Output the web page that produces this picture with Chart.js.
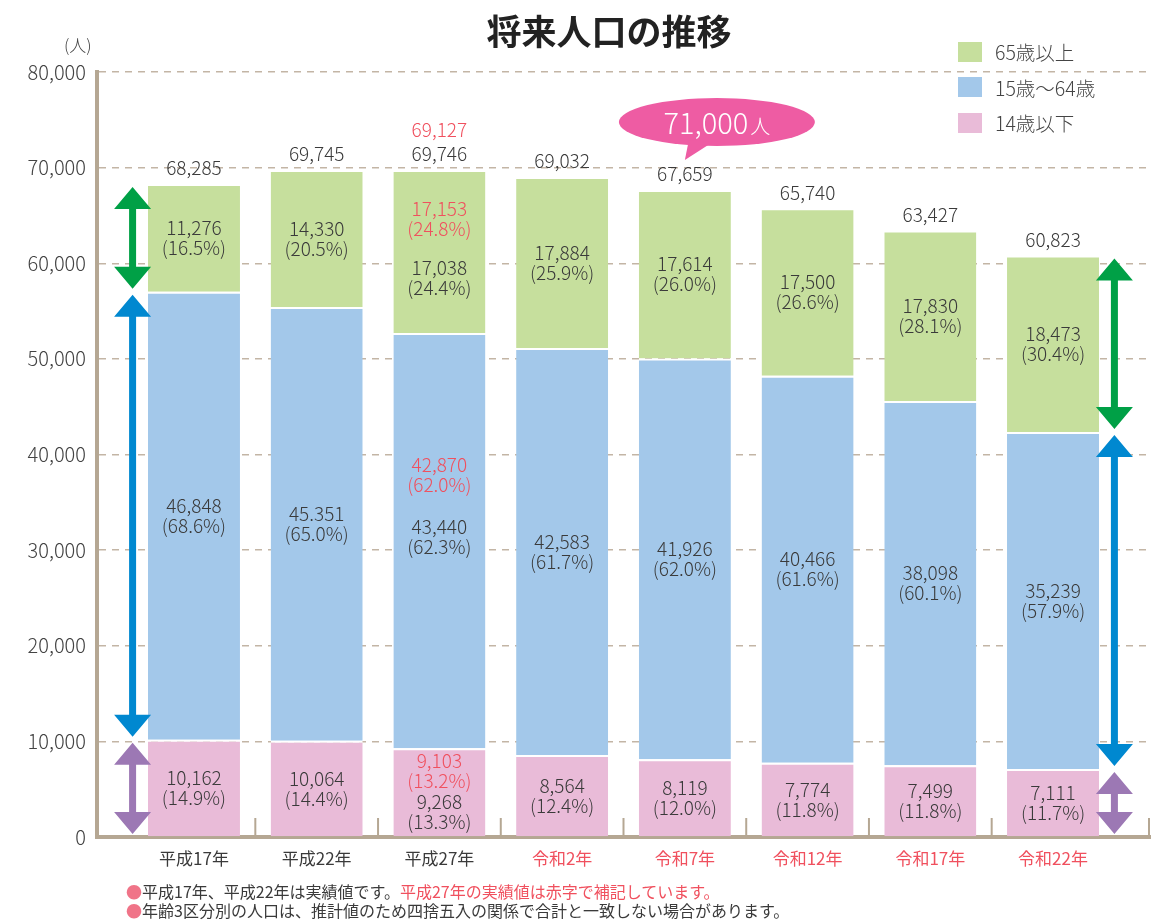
<!DOCTYPE html>
<html lang="ja">
<head>
<meta charset="utf-8">
<title>将来人口の推移</title>
<script src="https://cdn.jsdelivr.net/npm/chart.js@4.4.1/dist/chart.umd.min.js"></script>
<style>
  html, body { margin: 0; padding: 0; background: #fff; }
  body { font-family: "Noto Sans CJK JP", "Noto Sans", sans-serif; color: #333; }
  #wrap { position: relative; width: 1163px; height: 924px; overflow: hidden; }
  #title { position: absolute; left: 609px; top: 10px; transform: translateX(-50%);
           font-size: 35px; line-height: 40px; font-weight: bold; color: #222; white-space: nowrap; }
  #unit { position: absolute; left: 64px; top: 34px; font-size: 17px; line-height: 22px; color: #444; font-weight: 300; }
  #legend { position: absolute; left: 958px; top: 34px; }
  .item { display: flex; align-items: center; height: 35.5px; font-size: 19.5px; color: #444; font-weight: 300; }
  .sw { width: 24px; height: 20px; margin-right: 13px; }
  #notes { position: absolute; left: 126px; top: 882px; font-size: 16px; line-height: 19px; color: #3a3a3a; }
  .dot { color: #f07488; }
  .red { color: #f0505e; }
</style>
</head>
<body>
<div id="wrap">
  <canvas id="popChart" width="1163" height="924"></canvas>
  <div id="title">将来人口の推移</div>
  <div id="unit">(人)</div>
  <div id="legend"></div>
  <div id="notes">
    <div><span class="dot">●</span>平成17年、平成22年は実績値です。<span class="red">平成27年の実績値は赤字で補記しています。</span></div>
    <div><span class="dot">●</span>年齢3区分別の人口は、推計値のため四捨五入の関係で合計と一致しない場合があります。</div>
  </div>
</div>
<script>
// ---- data ----
const years      = ['平成17年', '平成22年', '平成27年', '令和2年', '令和7年', '令和12年', '令和17年', '令和22年'];
const under14    = [10162, 10064, 9268, 8564, 8119, 7774, 7499, 7111];
const age15to64  = [46848, 45351, 43440, 42583, 41926, 40466, 38098, 35239];
const over65     = [11276, 14330, 17038, 17884, 17614, 17500, 17830, 18473];
const pctUnder14 = ['14.9', '14.4', '13.3', '12.4', '12.0', '11.8', '11.8', '11.7'];
const pct15to64  = ['68.6', '65.0', '62.3', '61.7', '62.0', '61.6', '60.1', '57.9'];
const pctOver65  = ['16.5', '20.5', '24.4', '25.9', '26.0', '26.6', '28.1', '30.4'];
const totals     = [68285, 69745, 69746, 69032, 67659, 65740, 63427, 60823];

// 平成27年 actual values (shown in red): 14歳以下, 15～64歳, 65歳以上
const h27Index       = 2;
const h27Actual      = [9103, 42870, 17153];
const h27ActualPct   = ['13.2', '62.0', '24.8'];
const h27ActualTotal = 69127;

const targetValue = 71000;  // speech bubble
const targetIndex = 4;      // points at 令和7年

const FONT  = '"Noto Sans CJK JP", "Noto Sans", sans-serif';
const DARK  = '#3a3a3a';
const RED   = '#f0505e';
const TAN   = '#b5a793';
const COLORS = { young: '#e9bbd8', mid: '#a3c8ea', old: '#c6df9d' };

const fmt = v => v.toLocaleString('en-US');
const midText = age15to64.map(fmt);
midText[1] = '45.351';   // printed this way in the original

// legend (top item first, like the reference)
const legendEl = document.getElementById('legend');
[['65歳以上', COLORS.old], ['15歳～64歳', COLORS.mid], ['14歳以下', COLORS.young]].forEach(([t, c]) => {
  const row = document.createElement('div');
  row.className = 'item';
  row.innerHTML = '<span class="sw" style="background:' + c + '"></span>' + t;
  legendEl.appendChild(row);
});

function drawArrow(ctx, x, yTop, yBot, color) {
  const hw = 18.5, hh = 22, sw = 3.5;
  ctx.fillStyle = color;
  ctx.beginPath();
  ctx.moveTo(x, yTop);
  ctx.lineTo(x + hw, yTop + hh);
  ctx.lineTo(x + sw, yTop + hh);
  ctx.lineTo(x + sw, yBot - hh);
  ctx.lineTo(x + hw, yBot - hh);
  ctx.lineTo(x, yBot);
  ctx.lineTo(x - hw, yBot - hh);
  ctx.lineTo(x - sw, yBot - hh);
  ctx.lineTo(x - sw, yTop + hh);
  ctx.lineTo(x - hw, yTop + hh);
  ctx.closePath();
  ctx.fill();
}

const extrasPlugin = {
  id: 'extras',
  afterDatasetsDraw(chart) {
    const { ctx, scales: { x, y } } = chart;
    const area = chart.chartArea;
    ctx.save();

    // small separators on the x axis
    ctx.strokeStyle = TAN;
    ctx.lineWidth = 2;
    for (let i = 0; i < years.length - 1; i++) {
      const px = x.getPixelForValue(i + 0.5);
      ctx.beginPath(); ctx.moveTo(px, area.bottom); ctx.lineTo(px, area.bottom - 19); ctx.stroke();
    }
    ctx.beginPath(); ctx.moveTo(area.right - 1, area.bottom); ctx.lineTo(area.right - 1, area.bottom - 19); ctx.stroke();

    // segment labels
    ctx.textAlign = 'center';
    ctx.textBaseline = 'middle';
    ctx.font = '300 19px ' + FONT;
    const texts = [under14.map(fmt), midText, over65.map(fmt)];
    const pcts  = [pctUnder14, pct15to64, pctOver65];
    const h27Shift = [[-22, 19], [-66, -4], [-33, 26]]; // [red, black] offsets in 平成27年
    chart.data.datasets.forEach((ds, d) => {
      chart.getDatasetMeta(d).data.forEach((bar, i) => {
        const cy = (bar.y + bar.base) / 2;
        let off = 0;
        if (i === h27Index) {
          const ry = cy + h27Shift[d][0];
          ctx.fillStyle = RED;
          ctx.fillText(fmt(h27Actual[d]), bar.x, ry - 10);
          ctx.fillText('(' + h27ActualPct[d] + '%)', bar.x, ry + 10);
          off = h27Shift[d][1];
        }
        ctx.fillStyle = DARK;
        ctx.fillText(texts[d][i], bar.x, cy + off - 10);
        ctx.fillText('(' + pcts[d][i] + '%)', bar.x, cy + off + 10);
      });
    });

    // totals above the bars
    totals.forEach((t, i) => {
      ctx.fillStyle = DARK;
      ctx.fillText(fmt(t), x.getPixelForValue(i), y.getPixelForValue(t) - 16);
    });
    ctx.fillStyle = RED;
    ctx.fillText(fmt(h27ActualTotal), x.getPixelForValue(h27Index), y.getPixelForValue(totals[h27Index]) - 40);

    // double arrows: first bar on the left, last bar on the right
    const arrowColors = ['#9c78b4', '#0088d0', '#00a046'];
    [[0, -0.5], [years.length - 1, years.length - 0.5]].forEach(([b, pos]) => {
      const bounds = [0, under14[b], under14[b] + age15to64[b], under14[b] + age15to64[b] + over65[b]];
      const px = x.getPixelForValue(pos);
      for (let k = 0; k < 3; k++) {
        drawArrow(ctx, px, y.getPixelForValue(bounds[k + 1]) + 3, y.getPixelForValue(bounds[k]) - 3, arrowColors[k]);
      }
    });

    // speech bubble
    const tipX = x.getPixelForValue(targetIndex);
    const tipY = y.getPixelForValue(targetValue);
    const cx = tipX + 32, cy = tipY - 36;
    ctx.fillStyle = '#ee5ca3';
    ctx.beginPath();
    ctx.ellipse(cx, cy, 98, 24, 0, 0, Math.PI * 2);
    ctx.fill();
    ctx.beginPath();
    ctx.moveTo(tipX + 4, cy + 18);
    ctx.lineTo(tipX, tipY + 2);
    ctx.lineTo(tipX + 28, cy + 20);
    ctx.closePath();
    ctx.fill();
    const numTxt = fmt(targetValue);
    ctx.fillStyle = '#fff';
    ctx.textAlign = 'left';
    ctx.font = '300 29px ' + FONT;
    const w1 = ctx.measureText(numTxt).width;
    ctx.font = '300 20px ' + FONT;
    const w2 = ctx.measureText('人').width;
    const sx = cx - (w1 + w2 + 2) / 2;
    ctx.font = '300 29px ' + FONT;
    ctx.fillText(numTxt, sx, cy + 1);
    ctx.font = '300 20px ' + FONT;
    ctx.fillText('人', sx + w1 + 2, cy + 4);

    ctx.restore();
  }
};

const barDefaults = {
  stack: 'pop',
  borderColor: '#fff',
  borderWidth: { top: 2, left: 0, right: 0, bottom: 0 },
  borderSkipped: false,
  categoryPercentage: 1,
  barPercentage: 0.75
};

new Chart(document.getElementById('popChart').getContext('2d'), {
  type: 'bar',
  data: {
    datasets: [
      { ...barDefaults, label: '14歳以下',  data: under14.map((v, i) => ({ x: i, y: v })),   backgroundColor: COLORS.young },
      { ...barDefaults, label: '15歳～64歳', data: age15to64.map((v, i) => ({ x: i, y: v })), backgroundColor: COLORS.mid },
      { ...barDefaults, label: '65歳以上',  data: over65.map((v, i) => ({ x: i, y: v })),    backgroundColor: COLORS.old }
    ]
  },
  options: {
    responsive: false,
    animation: false,
    layout: { padding: { top: 72, right: 13, bottom: 0, left: 0 } },
    plugins: { legend: { display: false }, tooltip: { enabled: false } },
    scales: {
      x: {
        type: 'linear',
        stacked: true,
        offset: false,
        min: -0.79,
        max: 7.79,
        afterFit: s => { s.height = 87; },
        grid: { display: false, drawTicks: false, offset: false },
        border: { display: true, color: TAN, width: 4 },
        ticks: {
          stepSize: 1,
          includeBounds: false,
          autoSkip: false,
          maxRotation: 0,
          padding: 11,
          font: { family: FONT, size: 17 },
          color: c => (c.tick && c.tick.value >= 3 ? RED : DARK),
          callback: v => (Number.isInteger(v) && years[v] ? years[v] : '')
        }
      },
      y: {
        stacked: true,
        min: 0,
        max: 80000,
        afterFit: s => { s.width = 97; },
        grid: { color: '#c3b5a5', lineWidth: 1.5, drawTicks: false },
        border: { display: true, color: TAN, width: 4, dash: [7, 6] },
        ticks: {
          stepSize: 10000,
          padding: 11,
          font: { family: FONT, size: 20, weight: 300 },
          color: '#444',
          callback: v => fmt(v)
        }
      }
    }
  },
  plugins: [extrasPlugin]
});
</script>
</body>
</html>
